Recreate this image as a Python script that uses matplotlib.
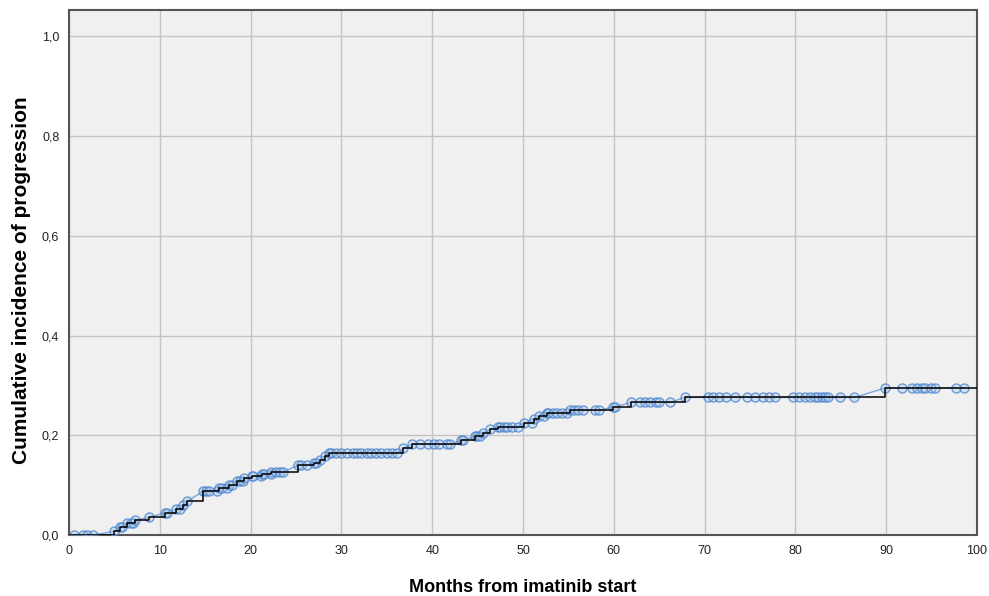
import numpy as np
import matplotlib
matplotlib.use('Agg')
import matplotlib.pyplot as plt
from matplotlib.ticker import FuncFormatter

plt.rcParams['font.family'] = ['Liberation Sans', 'DejaVu Sans']

# step function: event times and cumulative incidence after each event
event_t = [5.0, 5.6, 6.4, 7.3, 8.8, 10.6, 11.8, 12.6, 13.0, 14.8, 16.5, 17.6,
           18.5, 19.3, 20.1, 21.3, 22.3, 25.2, 27.0, 27.6, 28.2, 28.6, 36.8,
           37.8, 43.2, 44.7, 45.6, 46.4, 47.2, 50.1, 51.2, 51.8, 52.6, 55.2,
           59.9, 61.9, 67.8, 89.9]
event_y = [0.008, 0.016, 0.024, 0.030, 0.036, 0.045, 0.052, 0.060, 0.068, 0.088,
           0.095, 0.100, 0.108, 0.114, 0.118, 0.122, 0.127, 0.140, 0.145, 0.151,
           0.158, 0.164, 0.174, 0.182, 0.190, 0.198, 0.205, 0.212, 0.217, 0.225,
           0.232, 0.238, 0.244, 0.250, 0.257, 0.266, 0.276, 0.295]

# censored observations (months)
censor_t = [0.6, 1.5, 2.0, 2.6, 5.8, 6.8, 7.1, 10.8, 12.2, 15.1, 15.4, 16.3,
            16.8, 17.4, 18.0, 18.8, 19.2, 20.3, 21.1, 21.5, 22.2, 22.8, 23.2,
            23.6, 25.5, 26.2, 27.2, 28.9, 29.4, 30.0, 30.6, 31.3, 31.7, 32.2,
            32.8, 33.3, 33.8, 34.4, 35.0, 35.6, 36.1, 38.7, 39.5, 40.2, 40.8,
            41.6, 42.0, 43.4, 44.9, 45.3, 47.5, 47.9, 48.2, 48.8, 49.4, 51.0,
            52.3, 52.8, 53.3, 53.8, 54.3, 54.8, 55.6, 56.1, 56.6, 57.9, 58.4,
            60.1, 62.9, 63.4, 64.0, 64.6, 65.0, 66.2, 70.4, 70.9, 71.6, 72.4,
            73.3, 74.7, 75.6, 76.4, 77.1, 77.8, 79.7, 80.4, 81.1, 81.6, 82.2,
            82.5, 82.9, 83.3, 83.6, 84.9, 86.5, 91.8, 92.9, 93.4, 94.0, 94.3,
            94.9, 95.4, 97.7, 98.6]
t_max = 100

# step value at each censoring time
et = np.array(event_t)
ey = np.array(event_y)
def step_at(t):
    i = np.searchsorted(et, t, side='right')
    return 0.0 if i == 0 else ey[i - 1]

censor_y = [step_at(t) for t in censor_t]

pts_t = np.array(event_t + censor_t)
pts_y = np.array(event_y + censor_y)
order = np.argsort(pts_t)
pts_t, pts_y = pts_t[order], pts_y[order]

fig = plt.figure(figsize=(9.89, 5.96), dpi=100)
ax = fig.add_axes([0.0698, 0.102, 0.918, 0.881])
ax.set_facecolor('#f0f0f0')

# blue line + circles
ax.plot(pts_t, pts_y, '-', color='#7aa6dd', lw=1.0, zorder=3)
ax.plot(pts_t, pts_y, 'o', mfc=(0.66, 0.78, 0.93, 0.35), mec=(0.31, 0.53, 0.81, 0.8),
        mew=1.0, ms=6.5, zorder=4)

# step line
st = np.concatenate([[0], et, [t_max]])
sy = np.concatenate([[0], ey, [ey[-1]]])
ax.step(st, sy, where='post', color='black', lw=1.1, zorder=5)

ax.set_xlim(0, 100)
ax.set_ylim(0, 1.052)
ax.set_xticks(np.arange(0, 101, 10))
ax.set_yticks(np.arange(0, 1.01, 0.2))
ax.yaxis.set_major_formatter(FuncFormatter(lambda v, p: f'{v:.1f}'.replace('.', ',')))
ax.grid(True, color='#c4c4c4', lw=1.0)
ax.set_axisbelow(True)
ax.tick_params(length=0, labelsize=9, colors='#222222', pad=7)
for s in ax.spines.values():
    s.set_color('#555555')
    s.set_linewidth(1.5)

fig.text(523 / 989, 1 - 587 / 596, 'Months from imatinib start', fontsize=13,
         fontweight='bold', ha='center', va='center')
fig.text(22 / 989, 1 - 280 / 596, 'Cumulative incidence of progression',
         fontsize=15, fontweight='bold', rotation=90, ha='center', va='center')

fig.savefig('out.png', dpi=100)
